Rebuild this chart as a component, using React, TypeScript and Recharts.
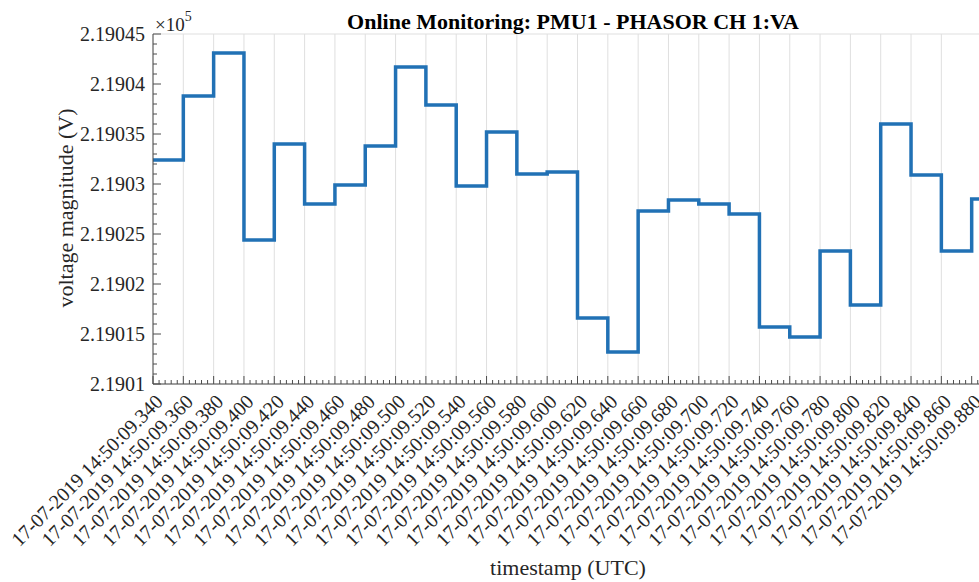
import React from "react";
import { LineChart, Line, XAxis, YAxis, CartesianGrid } from "recharts";

// sample times (ms after 14:50:09) and voltage magnitude (x1e5 V)
const times = [340, 360, 380, 400, 420, 440, 460, 480, 500, 520, 540, 560, 580, 600, 620, 640, 660, 680, 700, 720, 740, 760, 780, 800, 820, 840, 860, 880];
const volts = [
  2.190324, 2.190388, 2.190431, 2.190244, 2.19034, 2.19028, 2.190299, 2.190338, 2.190417, 2.190379,
  2.190298, 2.190352, 2.19031, 2.190312, 2.190166, 2.190132, 2.190273, 2.190284, 2.19028, 2.19027,
  2.190157, 2.190147, 2.190233, 2.190179, 2.19036, 2.190309, 2.190233, 2.190285,
];
const xDomain = [340, 900];
const yDomain = [2.1901, 2.19045];

const majorX = [340, 360, 380, 400, 420, 440, 460, 480, 500, 520, 540, 560, 580, 600, 620, 640, 660, 680, 700, 720, 740, 760, 780, 800, 820, 840, 860, 880, 900];
const majorY = [2.1901, 2.19015, 2.1902, 2.19025, 2.1903, 2.19035, 2.1904, 2.19045];
// minor ticks: five steps between majors
const minorX = Array.from({ length: 141 }, (_, i) => 340 + i * 4);
const minorY = Array.from({ length: 36 }, (_, i) => +(2.1901 + i * 0.00001).toFixed(5));

const data = times.map((t, i) => ({ t, v: volts[i] }));
data.push({ t: 900, v: volts[volts.length - 1] });

const FONT = "'Liberation Serif', 'Times New Roman', serif";
const INK = "#262626";
const AXIS = "#4d4d4d";

function XTick(props: any) {
  const { x, y, index, payload } = props;
  const major = index % 5 === 0;
  const labelled = major && payload.value <= times[times.length - 1];
  const ms = String(payload.value).padStart(3, "0");
  return (
    <g>
      <line x1={x} x2={x} y1={y} y2={y - (major ? 8 : 4)} stroke={AXIS} strokeWidth={1} />
      {labelled && (
        <text
          x={x + 6}
          y={y + 14}
          transform={`rotate(-45, ${x + 6}, ${y + 14})`}
          textAnchor="end"
          dominantBaseline="central"
          fontFamily={FONT}
          fontSize={20}
          fill={INK}
        >
          {`17-07-2019 14:50:09.${ms}`}
        </text>
      )}
    </g>
  );
}

function YTick(props: any) {
  const { x, y, index, payload } = props;
  const major = index % 5 === 0;
  return (
    <g>
      <line x1={x} x2={x + (major ? 8 : 4)} y1={y} y2={y} stroke={AXIS} strokeWidth={1} />
      {major && (
        <text x={x - 8} y={y} textAnchor="end" dominantBaseline="central" fontFamily={FONT} fontSize={20} fill={INK}>
          {String(+Number(payload.value).toFixed(5))}
        </text>
      )}
    </g>
  );
}

export default function App() {
  return (
    <div style={{ position: "absolute", left: 0, top: 0, width: 979, height: 582, overflow: "hidden", background: "#fff" }}>
      <LineChart width={1010} height={582} data={data} margin={{ top: 34, right: 8, bottom: 48, left: 73 }}>
        <XAxis xAxisId="grid" dataKey="t" type="number" domain={xDomain} ticks={majorX} hide />
        <YAxis yAxisId="grid" type="number" domain={yDomain} ticks={majorY} hide />
        <CartesianGrid xAxisId="grid" yAxisId="grid" stroke="#dfdfdf" strokeWidth={1} />
        <XAxis
          dataKey="t"
          type="number"
          domain={xDomain}
          ticks={minorX}
          interval={0}
          height={150}
          tickSize={0}
          tickMargin={0}
          tickLine={false}
          axisLine={{ stroke: AXIS }}
          tick={<XTick />}
          allowDataOverflow
        />
        <YAxis
          type="number"
          domain={yDomain}
          ticks={minorY}
          interval={0}
          width={80}
          tickSize={0}
          tickMargin={0}
          tickLine={false}
          axisLine={{ stroke: AXIS }}
          tick={<YTick />}
          allowDataOverflow
        />
        <Line type="stepAfter" dataKey="v" stroke="#2171b5" strokeWidth={3.5} dot={false} isAnimationActive={false} />
        <text x={573} y={29} textAnchor="middle" fontFamily={FONT} fontSize={22} fontWeight="bold" fill="#000">
          Online Monitoring: PMU1 - PHASOR CH 1:VA
        </text>
        <text x={155} y={31} fontFamily={FONT} fontSize={19} fill={INK}>
          ×10<tspan dy={-10} fontSize={14}>5</tspan>
        </text>
        <text x={568} y={575} textAnchor="middle" fontFamily={FONT} fontSize={22} fill={INK}>
          timestamp (UTC)
        </text>
        <text
          x={65}
          y={208}
          transform="rotate(-90, 65, 208)"
          textAnchor="middle"
          dominantBaseline="central"
          fontFamily={FONT}
          fontSize={22}
          fill={INK}
        >
          voltage magnitude (V)
        </text>
      </LineChart>
    </div>
  );
}
